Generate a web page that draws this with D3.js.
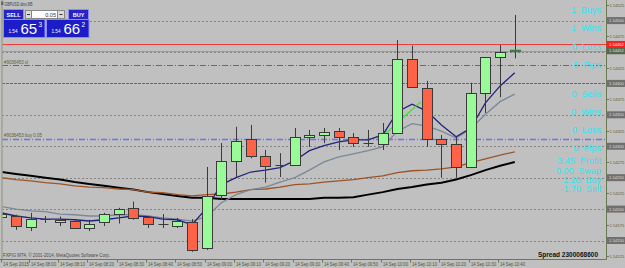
<!DOCTYPE html>
<html><head><meta charset="utf-8">
<script src="https://cdn.jsdelivr.net/npm/d3@7"></script>
<style>
html,body{margin:0;padding:0;background:#c0c0c0;}
svg{display:block;}
text{font-family:"Liberation Sans",Arial,sans-serif;}
</style></head><body>
<svg id="chart" width="625" height="268"></svg>
<script>
// ---------------- data ----------------
const times = ["07:50","07:55","08:00","08:05","08:10","08:15","08:20","08:25","08:30","08:35","08:40","08:45",
  "08:50","08:55","09:00","09:05","09:10","09:15","09:20","09:25","09:30","09:35","09:40","09:45",
  "09:50","09:55","10:00","10:05","10:10","10:15","10:20","10:25","10:30","10:35","10:40","10:45"];
const opens  = [1.54188,1.54189,1.54172,1.54184,1.54180,1.54181,1.54170,1.54180,1.54192,1.54202,1.54188,1.54177,
  1.54173,1.54180,1.54138,1.54223,1.54277,1.54312,1.54285,1.54269,1.54270,1.54315,1.54318,1.54324,
  1.54315,1.54305,1.54304,1.54321,1.54439,1.54393,1.54312,1.54304,1.54267,1.54385,1.54442,1.54452];
const highs  = [1.54194,1.54191,1.54194,1.54189,1.54188,1.54183,1.54183,1.54194,1.54202,1.54212,1.54189,1.54192,
  1.54186,1.54184,1.54267,1.54305,1.54331,1.54334,1.54294,1.54289,1.54329,1.54326,1.54329,1.54329,
  1.54321,1.54326,1.54337,1.54469,1.54460,1.54404,1.54318,1.54315,1.54401,1.54442,1.54461,1.54509];
const lows   = [1.54186,1.54167,1.54165,1.54178,1.54173,1.54169,1.54165,1.54173,1.54177,1.54183,1.54170,1.54170,
  1.54170,1.54132,1.54135,1.54215,1.54251,1.54281,1.54242,1.54251,1.54269,1.54299,1.54305,1.54294,
  1.54299,1.54299,1.54294,1.54321,1.54393,1.54299,1.54250,1.54250,1.54267,1.54353,1.54378,1.54440];
const closes = [1.54192,1.54173,1.54184,1.54183,1.54183,1.54170,1.54177,1.54192,1.54200,1.54186,1.54177,1.54177,
  1.54181,1.54135,1.54221,1.54277,1.54309,1.54285,1.54269,1.54270,1.54315,1.54318,1.54323,1.54315,
  1.54305,1.54304,1.54321,1.54439,1.54394,1.54312,1.54304,1.54267,1.54385,1.54442,1.54450,1.54452];

const maFast = [1.54194,1.54189,1.54186,1.54184,1.54184,1.54183,1.54181,1.54183,1.54186,1.54189,1.54188,1.54184,
  1.54183,1.54175,1.54202,1.54239,1.54250,1.54259,1.54262,1.54266,1.54277,1.54293,1.54301,1.54307,
  1.54310,1.54310,1.54318,1.54355,1.54367,1.54356,1.54334,1.54315,1.54329,1.54369,1.54396,1.54417];
const maMid = [1.54204,1.54200,1.54197,1.54196,1.54192,1.54191,1.54189,1.54189,1.54191,1.54191,1.54189,1.54186,
  1.54184,1.54181,1.54188,1.54210,1.54223,1.54231,1.54235,1.54243,1.54250,1.54262,1.54275,1.54283,
  1.54288,1.54293,1.54299,1.54324,1.54336,1.54332,1.54324,1.54313,1.54328,1.54351,1.54371,1.54383];
const maSlow = [1.54250,1.54247,1.54245,1.54242,1.54240,1.54237,1.54235,1.54234,1.54232,1.54231,1.54227,1.54226,
  1.54223,1.54221,1.54223,1.54224,1.54227,1.54231,1.54232,1.54235,1.54239,1.54240,1.54243,1.54245,
  1.54247,1.54250,1.54253,1.54258,1.54261,1.54262,1.54264,1.54267,1.54274,1.54280,1.54286,1.54291];
const maLong = [1.54259,1.54256,1.54253,1.54250,1.54247,1.54243,1.54240,1.54237,1.54234,1.54231,1.54227,1.54224,
  1.54221,1.54218,1.54218,1.54216,1.54216,1.54216,1.54216,1.54216,1.54216,1.54216,1.54218,1.54218,
  1.54219,1.54223,1.54227,1.54232,1.54235,1.54239,1.54242,1.54247,1.54254,1.54262,1.54269,1.54275];

const tradeTimes  = ["09:59","10:13"];
const tradePrices = [1.54312, 1.54371];

const priceTicks  = [1.54525,1.54475,1.54425,1.54375,1.54325,1.54275,1.54225,1.54175,1.54125];
const gridLevels  = [1.54500,1.54450,1.54400,1.54350,1.54300,1.54250,1.54200,1.54150];
const boxedLevels = [1.54500,1.54400,1.54350,1.54300,1.54250,1.54200,1.54150];
const askLevel = 1.54462, bidLevel = 1.54452;
const slLevel = 1.54429, tpLevel = 1.54400, buyLevel = 1.54312;
const slLabel = "#9036453 sl", buyLabel = "#9036453 buy 0.05";

const timeTicks = ["07:50","08:00","08:10","08:20","08:30","08:40","08:50","09:00","09:10","09:20","09:30","09:40","09:50","10:00","10:10","10:20","10:30","10:40"];
const timeTickLabels = ["14 Sep 2015","14 Sep 08:00","14 Sep 08:10","14 Sep 08:20","14 Sep 08:30","14 Sep 08:40","14 Sep 08:50",
  "14 Sep 09:00","14 Sep 09:10","14 Sep 09:20","14 Sep 09:30","14 Sep 09:40","14 Sep 09:50","14 Sep 10:00","14 Sep 10:10",
  "14 Sep 10:20","14 Sep 10:30","14 Sep 10:40"];

const statValues = ["1","1","0","6","0","0","0","0","3.45","0.00","1.20","-1.70"];
const statLabels = ["Buys","Wins","Loss","Pips","Sells","Wins","Loss","Pips","Profit","Swap","Buy","Sell"];

const symbolTitle = "GBPUSD.dmx,M5";
const lotText = "0.05";
const bidQuote = ["1.54","65","3"], askQuote = ["1.54","66","2"];
const footerText = "FXPIG MT4, \u00A9 2001-2014, MetaQuotes Software Corp.";
const spreadText = "Spread 2300068600";

// ---------------- layout ----------------
const svg = d3.select("#chart");
const plotL = 2, plotR = 606.5, plotB = 259.5;
const statY = [12.5,31,49.5,68,96.5,114.5,133,151,164,174,183,192];
const parseT = d3.timeParse("%H:%M");
const x = d3.scaleTime().domain([parseT(times[0]), parseT(times[times.length-1])]).range([1.33, 514.78]);
const y = d3.scaleLinear().domain([1.54150, 1.54450]).range([240.5, 52]);
const cy = v => Math.round(y(v)) + 0.5;

svg.append("rect").attr("width",625).attr("height",268).attr("fill","#c0c0c0");
svg.append("clipPath").attr("id","plot").append("rect")
  .attr("x",plotL+0.5).attr("y",0).attr("width",plotR-plotL-0.5).attr("height",plotB);
const g = svg.append("g").attr("clip-path","url(#plot)");

// grid lines (dotted)
g.selectAll("line.grid").data(gridLevels).join("line").attr("class","grid")
  .attr("x1",plotL).attr("x2",plotR).attr("y1",cy).attr("y2",cy)
  .attr("stroke","#858585").attr("stroke-width",1).attr("stroke-dasharray","2,2");

// order / price lines
const hl = (v,color,dash,w) => g.append("line").attr("x1",plotL).attr("x2",plotR)
  .attr("y1",cy(v)).attr("y2",cy(v)).attr("stroke",color).attr("stroke-width",w||1)
  .attr("stroke-dasharray",dash||null);
hl(tpLevel,"#d83a3a","3,1");
hl(slLevel,"#d83a3a","6,2,1,2");
hl(buyLevel,"#7070ee","6,2,1,2",1.4);
hl(bidLevel,"#9a9a9a");
hl(askLevel,"#f03c3c");

const lbl = (t,v,len) => g.append("text").attr("x",4).attr("y",y(v)-1.5).attr("font-size",5)
  .attr("textLength",len).attr("lengthAdjust","spacingAndGlyphs").attr("fill","#55603a").text(t);
lbl(slLabel, slLevel, 24);
lbl(buyLabel, buyLevel, 38);

// moving averages
const lineGen = arr => d3.line().x((d,i)=>x(parseT(times[i]))).y(d=>y(d))(arr);
g.append("path").attr("d",lineGen(maLong)).attr("fill","none").attr("stroke","#000").attr("stroke-width",2);
g.append("path").attr("d",lineGen(maSlow)).attr("fill","none").attr("stroke","#9c5426").attr("stroke-width",1.3);
g.append("path").attr("d",lineGen(maMid)).attr("fill","none").attr("stroke","#7a8898").attr("stroke-width",1.3);
g.append("path").attr("d",lineGen(maFast)).attr("fill","none").attr("stroke","#22227c").attr("stroke-width",1.3);

// closed-trade line
g.append("line").attr("x1",x(parseT(tradeTimes[0]))).attr("y1",y(tradePrices[0]))
  .attr("x2",x(parseT(tradeTimes[1]))).attr("y2",y(tradePrices[1]))
  .attr("stroke","#22ee22").attr("stroke-width",1.2);

// candles
const bars = times.map((t,i)=>({t:parseT(t),o:opens[i],h:highs[i],l:lows[i],c:closes[i],last:i===times.length-1}));
const cg = g.append("g");
bars.forEach(b=>{
  const cx = Math.round(x(b.t)) + 0.5;
  cg.append("line").attr("x1",cx).attr("x2",cx).attr("y1",y(b.h)).attr("y2",y(b.l))
    .attr("stroke","#3a3a3a").attr("stroke-width",1);
  const top = y(Math.max(b.o,b.c)), bot = y(Math.min(b.o,b.c));
  if (b.last) {
    cg.append("rect").attr("x",cx-5.5).attr("y",top-1).attr("width",11).attr("height",2.5).attr("fill","#3f7a3f");
  } else if (bot-top < 1.5) {
    cg.append("line").attr("x1",cx-5).attr("x2",cx+5).attr("y1",Math.round(top)+0.5).attr("y2",Math.round(top)+0.5)
      .attr("stroke","#3a3a3a");
  } else {
    cg.append("rect").attr("x",cx-5).attr("y",Math.round(top)+0.5).attr("width",10)
      .attr("height",Math.max(1,Math.round(bot)-Math.round(top)))
      .attr("fill", b.c>=b.o ? "#98fb98" : "#ff6347").attr("stroke","#3a3a3a").attr("stroke-width",1);
  }
});

// axes frame
svg.append("line").attr("x1",plotL).attr("x2",plotL).attr("y1",0).attr("y2",plotB).attr("stroke","#8a9478");
svg.append("line").attr("x1",plotR).attr("x2",plotR).attr("y1",0).attr("y2",plotB).attr("stroke","#6a7a50");
svg.append("line").attr("x1",0).attr("x2",plotR).attr("y1",plotB).attr("y2",plotB).attr("stroke","#6a7a50");

// price axis
const ax = svg.append("g");
priceTicks.forEach(v=>{
  const yy = cy(v);
  ax.append("line").attr("x1",plotR).attr("x2",plotR+2.5).attr("y1",yy).attr("y2",yy).attr("stroke","#6a7a50");
  ax.append("text").attr("x",609.5).attr("y",yy+1.6).attr("font-size",4.1)
    .attr("fill","#55603a").text(v.toFixed(5));
});
const box = (v,fill,tc) => {
  const yy = y(v);
  ax.append("rect").attr("x",plotR).attr("y",yy-3.5).attr("width",625-plotR).attr("height",7).attr("fill",fill);
  ax.append("text").attr("x",609).attr("y",yy+1.6).attr("font-size",4.1)
    .attr("fill",tc).text(v.toFixed(5));
};
boxedLevels.forEach(v=>box(v,"#707070","#dedede"));
box(bidLevel,"#56684e","#e2e2e2");
box(askLevel,"#ff1e1e","#ffffff");

// time axis
const tx = svg.append("g");
timeTicks.forEach((t,i)=>{
  const xx = Math.max(1.5, Math.round(x(parseT(t))) - 1.5);
  tx.append("line").attr("x1",xx).attr("x2",xx).attr("y1",plotB).attr("y2",plotB+3).attr("stroke","#6a7a50");
  tx.append("text").attr("x",xx+1.5).attr("y",265.5).attr("font-size",5).attr("textLength",i===0?26:25)
    .attr("lengthAdjust","spacingAndGlyphs").attr("fill","#4a5530").text(timeTickLabels[i]);
});

// footer + spread
svg.append("text").attr("x",3).attr("y",257).attr("font-size",5).attr("textLength",107)
  .attr("lengthAdjust","spacingAndGlyphs").attr("fill","#4a4a4a").text(footerText);
svg.append("text").attr("x",538).attr("y",257).attr("font-size",7).attr("textLength",60)
  .attr("lengthAdjust","spacingAndGlyphs").attr("font-weight","bold").attr("fill","#111").text(spreadText);

// stats text
const st = svg.append("g");
statLabels.forEach((l,i)=>{
  st.append("text").attr("x",601).attr("y",statY[i]).attr("text-anchor","end")
    .attr("font-size",9).attr("fill","#2ee4f0").style("white-space","pre")
    .text(statValues[i] + "  " + l);
});

// title
svg.append("rect").attr("x",1).attr("y",1.5).attr("width",2.5).attr("height",3.5).attr("fill","#6a6a6a");
svg.append("text").attr("x",4.5).attr("y",5.5).attr("font-size",5.5).attr("textLength",28)
  .attr("lengthAdjust","spacingAndGlyphs").attr("fill","#3a3a3a").text(symbolTitle);

// one-click trading panel
const p = svg.append("g");
const btn = (x0,w,label) => {
  p.append("rect").attr("x",x0+0.5).attr("y",9.5).attr("width",w).attr("height",10)
    .attr("fill","#2424c8").attr("stroke","#8c8cff");
  p.append("text").attr("x",x0+0.5+w/2).attr("y",16.8).attr("text-anchor","middle").attr("font-size",5.5)
    .attr("font-weight","bold").attr("fill","#fff").text(label);
};
btn(3,20,"SELL"); btn(68,20,"BUY");
p.append("rect").attr("x",25.5).attr("y",10.5).attr("width",6).attr("height",8).attr("fill","#dcdcdc").attr("stroke","#888");
p.append("rect").attr("x",27).attr("y",14).attr("width",3).attr("height",1).attr("fill","#333");
p.append("rect").attr("x",31.5).attr("y",10.5).attr("width",26).attr("height",8).attr("fill","#fff").attr("stroke","#888");
p.append("text").attr("x",56).attr("y",16.5).attr("text-anchor","end").attr("font-size",5.5).attr("fill","#333").text(lotText);
p.append("rect").attr("x",57.5).attr("y",10.5).attr("width",7).attr("height",8).attr("fill","#dcdcdc").attr("stroke","#888");
p.append("rect").attr("x",59.5).attr("y",14).attr("width",3).attr("height",1).attr("fill","#333");
const quote = (x0,w,q) => {
  p.append("rect").attr("x",x0+0.5).attr("y",19.5).attr("width",w).attr("height",18)
    .attr("fill","#1c1cc8").attr("stroke","#8c8cff");
  p.append("text").attr("x",x0+5.5).attr("y",33).attr("font-size",5.5).attr("textLength",9)
    .attr("lengthAdjust","spacingAndGlyphs").attr("fill","#fff").text(q[0]);
  p.append("text").attr("x",x0+17.5).attr("y",33.5).attr("font-size",15).attr("fill","#fff").text(q[1]);
  p.append("text").attr("x",x0+35.5).attr("y",26.5).attr("font-size",6.5).attr("fill","#fff").text(q[2]);
};
quote(3,41.5,bidQuote); quote(46,42.5,askQuote);
</script>
</body></html>
